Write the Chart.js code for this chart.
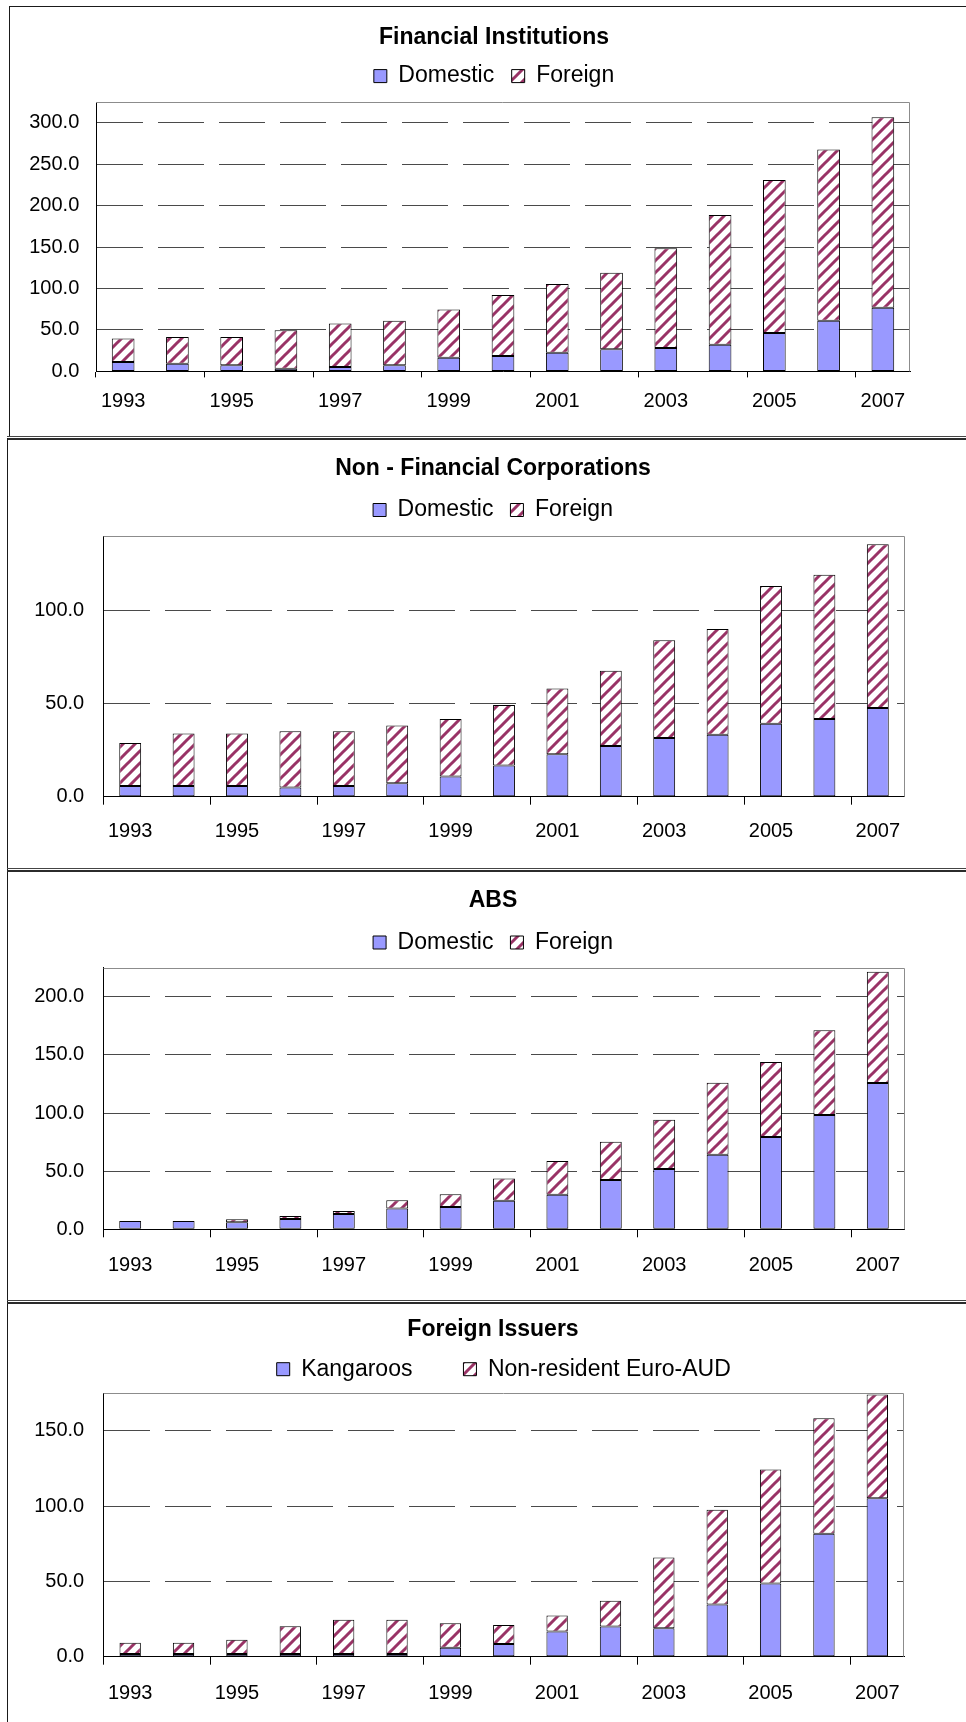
<!DOCTYPE html>
<html>
<head>
<meta charset="utf-8">
<title>Australian dollar bonds on issue by issuer type</title>
<script src="https://cdn.jsdelivr.net/npm/chart.js"></script>
<style>
  html, body { margin: 0; padding: 0; background: #fff; width: 966px; height: 1722px; overflow: hidden; }
  .rule { position: absolute; background: #1a1a1a; }
  canvas { position: absolute; }
</style>
</head>
<body>
<!-- panel frames -->
<div class="rule" style="left:9px;top:6px;width:957px;height:1px;"></div>
<div class="rule" style="left:9px;top:6px;width:1px;height:431px;"></div>
<div class="rule" style="left:7px;top:436px;width:959px;height:1px;background:#444;"></div>
<div class="rule" style="left:7px;top:438px;width:959px;height:2px;background:#2b2b2b;"></div>
<div class="rule" style="left:7px;top:438px;width:1px;height:1284px;"></div>
<div class="rule" style="left:7px;top:868px;width:959px;height:1px;background:#444;"></div>
<div class="rule" style="left:7px;top:870px;width:959px;height:2px;background:#2b2b2b;"></div>
<div class="rule" style="left:7px;top:1300px;width:959px;height:1px;background:#444;"></div>
<div class="rule" style="left:7px;top:1302px;width:959px;height:2px;background:#2b2b2b;"></div>

<canvas id="fin"></canvas>
<canvas id="nfc"></canvas>
<canvas id="abs"></canvas>
<canvas id="fis"></canvas>

<script>
// Category axis
const years = ['1993', '1994', '1995', '1996', '1997', '1998', '1999', '2000',
               '2001', '2002', '2003', '2004', '2005', '2006', '2007'];

// Financial institutions
const finDomestic = [11.3, 9.3, 7.3, 3.2, 5.2, 7.3, 16.6, 18.6, 22.6, 26.6, 28.3, 32.3, 46.4, 61.0, 76.7];
const finForeign  = [28.3, 32.3, 34.3, 46.5, 52.5, 53.7, 58.1, 73.5, 82.8, 92.5, 120.3, 156.3, 184.6, 206.7, 229.8];

// Non-financial corporations
const nfcDomestic = [5.8, 5.8, 5.8, 4.9, 5.8, 7.2, 10.8, 16.7, 22.8, 27.2, 31.5, 33.3, 39.2, 41.7, 47.7];
const nfcForeign  = [23.0, 28.2, 28.2, 30.2, 29.3, 31.1, 30.9, 32.6, 35.3, 40.4, 52.5, 56.8, 73.9, 77.5, 87.9];

// Asset-backed securities
const absDomestic = [7.2, 7.2, 6.0, 8.9, 13.2, 17.8, 19.2, 24.6, 29.8, 42.4, 51.9, 64.2, 79.4, 98.3, 125.8];
const absForeign  = [0, 0, 2.6, 2.6, 2.6, 7.1, 10.9, 19.0, 28.9, 33.0, 42.4, 61.9, 64.4, 72.8, 95.7];

// Foreign issuers
const kangaroos = [1.8, 1.8, 1.8, 1.8, 1.8, 1.8, 6.0, 8.5, 16.7, 20.0, 18.9, 34.7, 48.7, 81.7, 105.3];
const euroAud   = [7.5, 7.5, 9.5, 18.4, 22.7, 22.7, 16.3, 12.6, 10.7, 17.2, 47.0, 63.0, 75.7, 76.7, 68.9];

// Value-axis tops and tick step
const axisMax = { fin: 325, nfc: 140, abs: 225, fis: 175 };
const axisStep = 50;

Chart.defaults.font.family = '"Liberation Sans", Arial, Helvetica, sans-serif';
Chart.defaults.color = '#000';

// Tile of wide upward diagonal stripes
const hatchTile = (() => {
  const s = 12;
  const c = document.createElement('canvas');
  c.width = s; c.height = s;
  const g = c.getContext('2d');
  g.fillStyle = '#ffffff';
  g.fillRect(0, 0, s, s);
  g.strokeStyle = '#993366';
  g.lineWidth = 3;
  g.beginPath();
  for (let k = -1; k <= 1; k++) {
    g.moveTo(k * s - 2, s + 2);
    g.lineTo(k * s + s + 2, -2);
  }
  g.stroke();
  return c;
})();

// Grey outline on the top and right of the plot area
const plotFrame = {
  id: 'plotFrame',
  beforeDatasetsDraw(chart) {
    const { ctx, chartArea: a } = chart;
    const top = Math.round(a.top) + 0.5;
    const right = Math.round(a.right) - 0.5;
    ctx.save();
    ctx.strokeStyle = '#8c8c8c';
    ctx.lineWidth = 1;
    ctx.beginPath();
    ctx.moveTo(a.left, top);
    ctx.lineTo(right, top);
    ctx.lineTo(right, a.bottom);
    ctx.stroke();
    ctx.restore();
  }
};

const panels = [
  { id: 'fin', title: 'Financial Institutions', names: ['Domestic', 'Foreign'],
    series: [finDomestic, finForeign], yMax: axisMax.fin,
    left: 10, top: 6, width: 956, height: 431, padL: 15, padR: 3, padB: 5.6,
    yW: 71, rW: 53, yPad: 16.7, titleC: 31.2, legendC: 70.1, gap: 17.5, plotTop: 96,
    tick: 6, xPad: 11.6, bar: 0.418, legendFull: true },
  { id: 'nfc', title: 'Non - Financial Corporations', names: ['Domestic', 'Foreign'],
    series: [nfcDomestic, nfcForeign], yMax: axisMax.nfc,
    left: 8, top: 439, width: 958, height: 431, padL: 16, padR: 4, padB: 13.3,
    yW: 79.5, rW: 57.5, yPad: 19.3, titleC: 29.3, legendC: 71, gap: 17, plotTop: 97,
    tick: 8, xPad: 15.2, bar: 0.41, legendFull: true },
  { id: 'abs', title: 'ABS', names: ['Domestic', 'Foreign'],
    series: [absDomestic, absForeign], yMax: axisMax.abs,
    left: 8, top: 870, width: 958, height: 432, padL: 16, padR: 4, padB: 12.7,
    yW: 79.5, rW: 57.5, yPad: 19.3, titleC: 30.8, legendC: 72.5, gap: 17, plotTop: 97.7,
    tick: 8, xPad: 15.7, bar: 0.41, legendFull: true },
  { id: 'fis', title: 'Foreign Issuers', names: ['Kangaroos', 'Non-resident Euro-AUD'],
    series: [kangaroos, euroAud], yMax: axisMax.fis,
    left: 8, top: 1302, width: 958, height: 420, padL: 16, padR: 4, padB: 5.3,
    yW: 79.5, rW: 58, yPad: 19.3, titleC: 28, legendC: 67.2, gap: 51, plotTop: 91.3,
    tick: 8, xPad: 16.6, bar: 0.40, legendFull: false }
];

const TITLE_SIZE = 23, TITLE_LH = 0.8, LEGEND_SIZE = 23, TICK_SIZE = 20;

function buildChart(p) {
  const canvas = document.getElementById(p.id);
  canvas.style.left = p.left + 'px';
  canvas.style.top = p.top + 'px';
  canvas.width = p.width;
  canvas.height = p.height;
  const ctx = canvas.getContext('2d');
  const hatch = ctx.createPattern(hatchTile, 'repeat');

  // vertical stacking: title, legend row, then a thin spacer above the plot
  const titleLine = TITLE_SIZE * TITLE_LH;
  const titlePadTop = p.titleC - titleLine / 2;
  const legendTop = p.legendC - LEGEND_SIZE / 2 - p.gap;
  const legendBottom = legendTop + LEGEND_SIZE + p.gap + 10;

  return new Chart(ctx, {
    type: 'bar',
    data: {
      labels: years,
      datasets: [
        { label: p.names[0], data: p.series[0], backgroundColor: '#9999ff',
          borderColor: '#000', borderWidth: 1, borderSkipped: false },
        { label: p.names[1], data: p.series[1], backgroundColor: hatch,
          borderColor: '#000', borderWidth: 1, borderSkipped: false }
      ]
    },
    options: {
      responsive: false,
      animation: false,
      devicePixelRatio: 1,
      events: [],
      layout: { padding: { left: p.padL, right: p.padR, top: 0, bottom: p.padB } },
      datasets: { bar: { categoryPercentage: 1, barPercentage: p.bar } },
      plugins: {
        title: {
          display: true, text: p.title, color: '#000',
          font: { size: TITLE_SIZE, weight: 'bold', lineHeight: TITLE_LH },
          padding: { top: titlePadTop, bottom: legendTop - titlePadTop - titleLine }
        },
        legend: {
          display: true, position: 'top', fullSize: p.legendFull,
          labels: { color: '#000', font: { size: LEGEND_SIZE }, boxWidth: 13, boxHeight: 13, padding: p.gap }
        },
        subtitle: {
          display: true, text: '', position: 'top', weight: 500,
          font: { size: 1, lineHeight: 1 },
          padding: { top: p.plotTop - legendBottom - 1, bottom: 0 }
        },
        tooltip: { enabled: false }
      },
      scales: {
        x: {
          stacked: true,
          offset: true,
          grid: {
            display: true, drawOnChartArea: false, offset: true,
            tickLength: p.tick, tickWidth: 1,
            tickColor: c => (c.index % 2 === 0 ? '#000' : 'rgba(0,0,0,0)')
          },
          border: { display: true, color: '#000', width: 1 },
          ticks: {
            color: '#000', font: { size: TICK_SIZE }, padding: p.xPad,
            autoSkip: false, maxRotation: 0, minRotation: 0,
            callback(value, index) { return index % 2 === 0 ? this.getLabelForValue(value) : ''; }
          },
          afterFit(scale) { scale.height = 60; }
        },
        y: {
          stacked: true,
          min: 0, max: p.yMax, bounds: 'data',
          grid: {
            drawTicks: false, lineWidth: 1,
            color: c => (c.tick && c.tick.value === 0 ? 'rgba(0,0,0,0)' : '#4a4a4a')
          },
          border: { display: true, color: '#000', width: 1, dash: [46, 15] },
          ticks: {
            stepSize: axisStep, includeBounds: false,
            color: '#000', font: { size: TICK_SIZE }, padding: p.yPad,
            callback: v => Number(v).toFixed(1)
          },
          afterBuildTicks(scale) {
            scale.ticks = scale.ticks.filter(t => t.value % axisStep === 0);
          },
          afterFit(scale) { scale.width = p.yW; }
        },
        // empty margin on the right, so the heading is centred on the whole panel
        yMargin: {
          axis: 'y', type: 'linear', position: 'right', display: true,
          grid: { display: false, drawOnChartArea: false, drawTicks: false },
          border: { display: false },
          ticks: { display: false },
          afterFit(scale) { scale.width = p.rW; }
        }
      }
    },
    plugins: [plotFrame]
  });
}

panels.forEach(buildChart);
</script>
</body>
</html>
